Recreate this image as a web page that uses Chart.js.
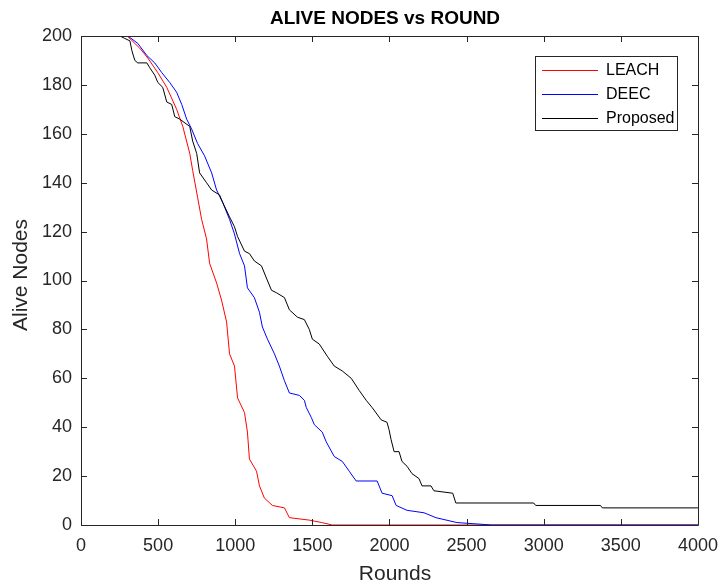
<!DOCTYPE html>
<html>
<head>
<meta charset="utf-8">
<script src="https://cdn.jsdelivr.net/npm/chart.js@4.4.1/dist/chart.umd.min.js"></script>
<style>
  html, body { margin: 0; padding: 0; background: #fff; }
  #wrap { width: 728px; height: 582px; }
</style>
</head>
<body>
<div id="wrap"><canvas id="chart" width="728" height="582"></canvas></div>
<script>
// --- Data ---
const leachRounds = [0, 300, 381, 433, 498, 556, 620, 660, 705, 724, 756, 782, 814, 834, 879, 911, 944, 963, 995, 1015, 1060, 1079, 1092, 1138, 1157, 1189, 1241, 1319, 1351, 1480, 1560, 1629, 4000];
const leachAlive  = [200, 200, 195, 191, 185, 179, 170, 163, 152, 145, 134, 125, 117, 107, 99, 92, 83, 70, 65, 52, 46, 38, 27, 22, 16, 11, 8, 7, 3, 2, 1, 0, 0];

const deecRounds = [0, 304, 368, 427, 478, 524, 575, 620, 653, 685, 717, 756, 801, 847, 879, 918, 963, 995, 1028, 1060, 1079, 1124, 1157, 1176, 1209, 1254, 1286, 1319, 1351, 1416, 1448, 1461, 1493, 1513, 1564, 1590, 1642, 1694, 1739, 1784, 1920, 1952, 2017, 2043, 2114, 2224, 2301, 2437, 2663, 4000];
const deecAlive  = [200, 200, 197, 192, 189, 185, 181, 177, 172, 166, 162, 156, 151, 144, 137, 132, 125, 119, 111, 106, 97, 93, 87, 81, 76, 70, 65, 59, 54, 53, 51, 48, 44, 41, 38, 34, 28, 26, 22, 18, 18, 13, 12, 8, 6, 5, 3, 1, 0, 0];

const propRounds = [0, 252, 284, 317, 330, 349, 368, 427, 446, 478, 498, 530, 556, 588, 608, 640, 705, 724, 750, 769, 814, 847, 898, 918, 963, 995, 1015, 1060, 1092, 1124, 1170, 1202, 1235, 1267, 1319, 1351, 1403, 1448, 1480, 1500, 1545, 1597, 1642, 1694, 1752, 1804, 1849, 1888, 1946, 1984, 1997, 2010, 2030, 2062, 2081, 2114, 2146, 2191, 2211, 2269, 2288, 2410, 2430, 2935, 2948, 3368, 3380, 4000];
const propAlive  = [200, 200, 199, 198, 194, 190, 189, 189, 187, 184, 181, 179, 173, 172, 167, 166, 163, 157, 152, 144, 140, 137, 135, 132, 126, 122, 118, 112, 111, 108, 106, 101, 96, 95, 93, 88, 85, 84, 80, 76, 74, 69, 65, 63, 60, 55, 51, 48, 43, 42, 39, 35, 30, 30, 26, 24, 21, 19, 16, 16, 14, 13, 9, 9, 8, 8, 7, 7];

const seriesNames = ['LEACH', 'DEEC', 'Proposed'];
const seriesColors = ['#ff0000', '#0000ff', '#000000'];
const chartTitle = 'ALIVE NODES vs ROUND';
const xTitle = 'Rounds';
const yTitle = 'Alive Nodes';

const toPoints = (xs, ys) => xs.map((x, i) => ({ x: x, y: ys[i] }));

const FONT = '"Liberation Sans", Arial, Helvetica, sans-serif';
const AXIS_COLOR = '#262626';

// box, inward ticks, title, axis titles, legend (MATLAB look)
const matlabFrame = {
    id: 'matlabFrame',
    afterDraw(chart) {
        const { ctx, chartArea: a, scales } = chart;
        const xs = scales.x, ys = scales.y;
        ctx.save();
        ctx.strokeStyle = AXIS_COLOR;
        ctx.lineWidth = 1;
        ctx.beginPath();
        ctx.rect(Math.round(a.left) + 0.5, Math.round(a.top) + 0.5,
                 Math.round(a.right - a.left), Math.round(a.bottom - a.top));
        ctx.stroke();

        const tl = 6;
        ctx.beginPath();
        xs.ticks.forEach(t => {
            const px = Math.round(xs.getPixelForValue(t.value)) + 0.5;
            ctx.moveTo(px, a.bottom); ctx.lineTo(px, a.bottom - tl);
            ctx.moveTo(px, a.top); ctx.lineTo(px, a.top + tl);
        });
        ys.ticks.forEach(t => {
            const py = Math.round(ys.getPixelForValue(t.value)) + 0.5;
            ctx.moveTo(a.left, py); ctx.lineTo(a.left + tl, py);
            ctx.moveTo(a.right, py); ctx.lineTo(a.right - tl, py);
        });
        ctx.stroke();

        // title
        ctx.fillStyle = '#000';
        ctx.textAlign = 'center';
        ctx.textBaseline = 'middle';
        ctx.font = 'bold 19px ' + FONT;
        ctx.fillText(chartTitle, 385, 19);

        // axis titles
        ctx.fillStyle = AXIS_COLOR;
        ctx.font = '21px ' + FONT;
        ctx.fillText(xTitle, 395, 574);
        ctx.save();
        ctx.translate(21, 275);
        ctx.rotate(-Math.PI / 2);
        ctx.fillText(yTitle, 0, 0);
        ctx.restore();

        // legend
        const lx = 535.5, ly = 56.5, lw = 142, lh = 74;
        ctx.fillStyle = '#fff';
        ctx.fillRect(lx, ly, lw, lh);
        ctx.strokeStyle = '#262626';
        ctx.strokeRect(lx, ly, lw, lh);
        const rows = [70, 94, 118];
        ctx.font = '16px ' + FONT;
        ctx.textAlign = 'left';
        seriesNames.forEach((name, i) => {
            ctx.strokeStyle = seriesColors[i];
            ctx.beginPath();
            ctx.moveTo(542, rows[i] + 0.5);
            ctx.lineTo(598, rows[i] + 0.5);
            ctx.stroke();
            ctx.fillStyle = '#000';
            ctx.fillText(name, 606, rows[i] + 1);
        });
        ctx.restore();
    }
};

const makeSet = (i, xs, ys, order) => ({
    label: seriesNames[i],
    data: toPoints(xs, ys),
    borderColor: seriesColors[i],
    backgroundColor: seriesColors[i],
    borderWidth: 1,
    pointRadius: 0,
    tension: 0,
    fill: false,
    order: order
});

new Chart(document.getElementById('chart'), {
    type: 'line',
    data: {
        datasets: [
            makeSet(0, leachRounds, leachAlive, 2),
            makeSet(1, deecRounds, deecAlive, 1),
            makeSet(2, propRounds, propAlive, 0)
        ]
    },
    options: {
        responsive: false,
        animation: false,
        layout: { padding: { top: 36, right: 28, left: 0, bottom: 0 } },
        plugins: { legend: { display: false }, title: { display: false }, tooltip: { enabled: false } },
        scales: {
            x: {
                type: 'linear',
                min: 0, max: 4000,
                grid: { display: false, drawTicks: false },
                border: { display: false },
                ticks: { stepSize: 500, padding: 10, color: AXIS_COLOR, maxRotation: 0,
                         callback: v => String(v),
                         font: { family: FONT, size: 18 } },
                afterFit: s => { s.height = 57; }
            },
            y: {
                min: 0, max: 200,
                grid: { display: false, drawTicks: false },
                border: { display: false },
                ticks: { stepSize: 20, padding: 9, color: AXIS_COLOR,
                         font: { family: FONT, size: 18 } },
                afterFit: s => { s.width = 81; }
            }
        }
    },
    plugins: [matlabFrame]
});
</script>
</body>
</html>
